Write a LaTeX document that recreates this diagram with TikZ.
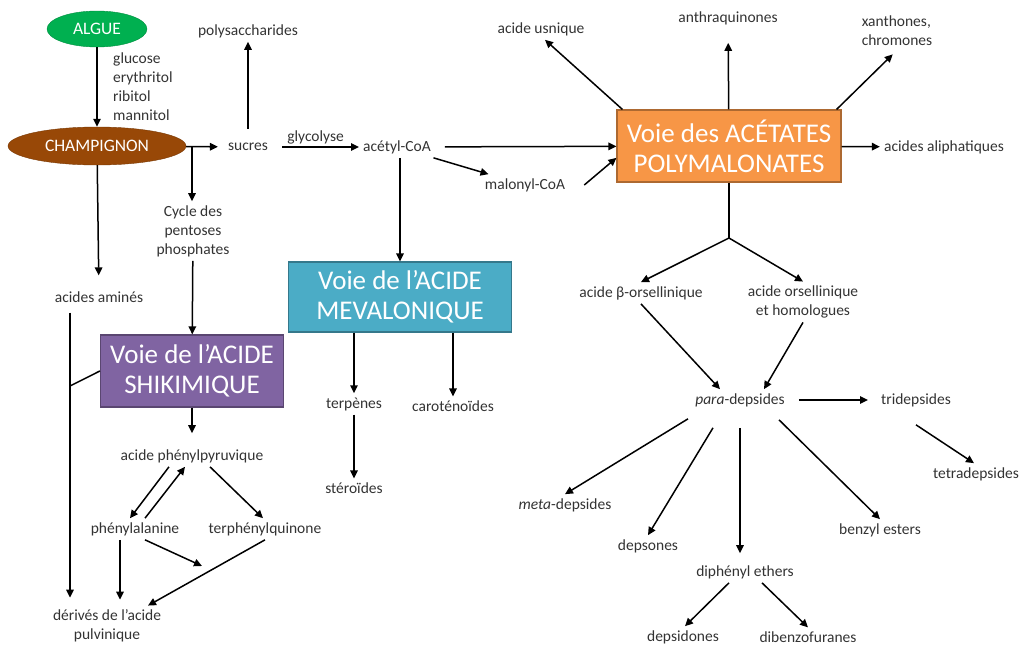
\documentclass[tikz,border=0pt]{standalone}
\usepackage{fontspec}
\setmainfont{Carlito}
\usetikzlibrary{arrows.meta,shapes.geometric}

\definecolor{algue}{HTML}{00B050}
\definecolor{champ}{HTML}{984807}
\definecolor{mevalo}{HTML}{4BACC6}
\definecolor{shiki}{HTML}{8064A2}
\definecolor{acetate}{HTML}{F79646}

\tikzset{
  lbl/.style={font=\fontsize{15.5}{19}\selectfont, inner sep=4pt, align=center, text=black!80},
  voie/.style={draw=#1!70!black, fill=#1, line width=1.2pt, text=white, font=\fontsize{27}{30}\selectfont, align=center, inner sep=0pt},
  org/.style={ellipse, fill=#1, draw=#1!80!black, text=white, font=\fontsize{17.5}{20}\selectfont, inner sep=0pt},
  ln/.style={line width=1.5pt},
  fl/.style={ln, -{Triangle[length=8pt,width=7.5pt]}},
}

\begin{document}
\begin{tikzpicture}[x=1pt,y=-1pt]
\useasboundingbox (0,0) rectangle (1021,646);

\node[org=algue, minimum width=100pt, minimum height=36pt] (algue) at (97,29) {ALGUE};
\node[org=champ, minimum width=178pt, minimum height=38pt] (champ) at (97,146) {CHAMPIGNON};
\node[lbl, align=left, anchor=west, inner sep=0pt] (sucs) at (113,87) {glucose\\erythritol\\ribitol\\mannitol};

\node[lbl] (poly) at (248,31) {polysaccharides};
\node[lbl] (sucres) at (248,147) {sucres};
\node[lbl] (acetyl) at (397,147) {acétyl-CoA};
\node[lbl] (malonyl) at (525,185) {malonyl-CoA};
\node[lbl] (cycle) at (193,231) {Cycle des\\pentoses\\phosphates};
\node[lbl] (amines) at (99,297) {acides aminés};

\node[voie=mevalo, minimum width=223pt, minimum height=70pt] (mevalo) at (400,297) {Voie de l’ACIDE\\MEVALONIQUE};
\node[voie=shiki, minimum width=183pt, minimum height=72pt] (shiki) at (192,371) {Voie de l’ACIDE\\SHIKIMIQUE};
\node[voie=acetate, minimum width=224pt, minimum height=72pt] (acetate) at (729,146) {Voie des ACÉTATES\\POLYMALONATES};

\node[lbl] (terpenes) at (354,404) {terpènes};
\node[lbl] (carot) at (453,406) {caroténoïdes};
\node[lbl] (sterol) at (354,488) {stéroïdes};
\node[lbl] (phpyr) at (192,456) {acide phénylpyruvique};
\node[lbl] (phala) at (135,529) {phénylalanine};
\node[lbl] (terph) at (265,529) {terphénylquinone};
\node[lbl] (pulvi) at (107,626) {dérivés de l’acide\\pulvinique};

\node[lbl] (usnique) at (541,29) {acide usnique};
\node[lbl] (anthra) at (728,18) {anthraquinones};
\node[lbl, align=left] (xantho) at (897,31) {xanthones,\\chromones};
\node[lbl] (aliph) at (944,147) {acides aliphatiques};
\node[lbl] (bors) at (641,293) {acide β-orsellinique};
\node[lbl] (orsel) at (803,302) {acide orsellinique\\et homologues};
\node[lbl] (para) at (740,400) {\textit{para}-depsides};
\node[lbl] (tri) at (916,400) {tridepsides};
\node[lbl] (tetra) at (976,474) {tetradepsides};
\node[lbl] (meta) at (565,505) {\textit{meta}-depsides};
\node[lbl] (depsones) at (648,546) {depsones};
\node[lbl] (diph) at (745,572) {diphényl ethers};
\node[lbl] (benzyl) at (880,530) {benzyl esters};
\node[lbl] (depsido) at (683,637) {depsidones};
\node[lbl] (dibenzo) at (808,637) {dibenzofuranes};

\coordinate (fork1) at (192,147);
\coordinate (junc) at (70,386);
\coordinate (meet) at (202,566);
\coordinate (fork2) at (729,238);

\draw[fl] (algue) -- (champ);
\draw[fl, shorten >=6pt] (champ) -- (sucres);
\draw[fl] (fork1) -- (fork1 |- cycle.north);
\draw[fl, shorten >=12pt] (champ) -- (amines);
\draw[fl, shorten <=10pt] (sucres) -- (poly);
\draw[fl, shorten <=10pt] (sucres) -- node[lbl, above, inner sep=2pt] (glyco) {glycolyse} (acetyl);
\draw[fl, shorten <=10pt] (acetyl) -- (acetate);
\draw[fl] (acetyl) -- (malonyl);
\draw[fl] ([xshift=15pt]malonyl.east) -- (acetate.186);
\draw[fl] (mevalo.north |- acetyl.south) -- (mevalo.north);
\draw[fl] (cycle) -- (shiki);
\draw[fl, shorten <=6pt, shorten >=8pt] (amines.south -| junc) -- (junc |- pulvi.north);
\draw[ln] (shiki.west) -- (junc);
\draw[fl, shorten >=12pt] (shiki) -- (phpyr);
\draw[fl] ([xshift=-23pt]phpyr.south) -- ([xshift=-5pt]phala.north);
\draw[fl] ([xshift=10pt]phala.north) -- ([xshift=-7pt]phpyr.south);
\draw[fl] ([xshift=18pt]phpyr.south) -- ([xshift=-2pt]terph.north);
\draw[fl, shorten >=6pt] ([xshift=-15pt]phala.south) -- ([xshift=-15pt]phala.south |- pulvi.north);
\draw[fl] ([xshift=10pt]phala.south) -- (meet);
\draw[fl] (terph.south) -- ([xshift=41pt]pulvi.north);
\draw[fl] (terpenes.north |- mevalo.south) -- (terpenes.north);
\draw[fl] (carot.north |- mevalo.south) -- (carot.north);
\draw[fl] (terpenes) -- (sterol);

\draw[fl] ([xshift=6pt]acetate.north west) -- ([xshift=4pt]usnique.south);
\draw[fl, shorten >=14pt] (acetate) -- (anthra);
\draw[fl, shorten >=6pt] ([xshift=-5pt]acetate.north east) -- (xantho.south);
\draw[fl] (acetate) -- (aliph);
\draw[ln] (acetate.south) -- (fork2);
\draw[fl] (fork2) -- (bors.north);
\draw[fl] (fork2) -- (orsel.north);
\draw[fl] (bors.south) -- ([xshift=-20pt]para.north);
\draw[fl] (orsel.south) -- ([xshift=24pt]para.north);
\draw[fl, shorten <=10pt, shorten >=9pt] (para) -- (tri);
\draw[fl] ([yshift=-14pt]tri.south) -- ([xshift=-2pt]tetra.north);
\draw[fl] ([xshift=-52pt,yshift=-8pt]para.south) -- (meta.north);
\draw[fl] ([xshift=-27pt,yshift=-17pt]para.south) -- (depsones.north);
\draw[fl, shorten >=8pt] ([yshift=-17pt]para.south) -- (para.south |- diph.north);
\draw[fl] ([xshift=39pt,yshift=-9pt]para.south) -- (benzyl.north);
\draw[fl] ([xshift=-16pt]diph.south) -- ([xshift=2pt]depsido.north);
\draw[fl] ([xshift=17pt]diph.south) -- (dibenzo.north);
\end{tikzpicture}
\end{document}
